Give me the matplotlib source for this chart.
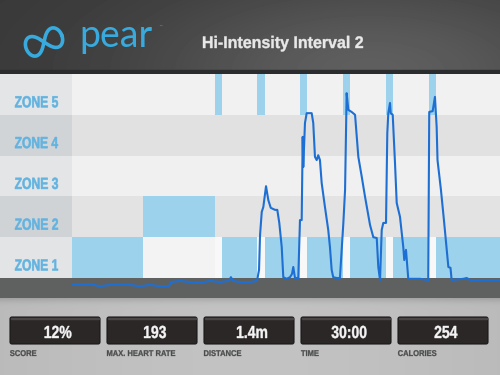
import numpy as np
import matplotlib
matplotlib.use("Agg")
import matplotlib.pyplot as plt
from matplotlib.patches import Rectangle, FancyBboxPatch, PathPatch
from matplotlib.textpath import TextPath
from matplotlib.font_manager import FontProperties
from matplotlib.transforms import Affine2D

#%% data
zone_names = ["ZONE 1", "ZONE 2", "ZONE 3", "ZONE 4", "ZONE 5"]

# workout plan (minutes)
plan_zone = [1, 2, 5, 1, 5, 1, 5, 1, 5, 1, 5, 1, 5, 1]
plan_start = [0, 5, 10, 10.5, 13, 13.5, 16, 16.5, 19, 19.5, 22, 22.5, 25, 25.5]
plan_end = [5, 10, 10.5, 13, 13.5, 16, 16.5, 19, 19.5, 22, 22.5, 25, 25.5, 30]

# heart rate trace: time (min) and level in zone units (0 = bottom of zone 1)
hr_time = [0.00, 0.56, 1.26, 1.96, 2.66, 3.36, 4.07, 4.77, 5.47, 6.17, 6.80,
           6.94, 7.57, 8.27, 8.97, 9.67, 10.37, 11.00, 11.14, 11.28, 11.78,
           12.48, 12.97, 13.11, 13.18, 13.30, 13.41, 13.60, 13.76, 13.93,
           14.23, 14.39, 14.53, 14.70, 14.81, 15.05, 15.28, 15.42, 15.51,
           15.63, 15.86, 15.98, 16.10, 16.17, 16.21, 16.33, 16.45, 16.80,
           16.91, 17.03, 17.15, 17.26, 17.38, 17.50, 17.73, 17.96, 18.08,
           18.20, 18.31, 18.55, 18.78, 19.02, 19.14, 19.25, 19.37, 19.60,
           19.84, 20.07, 20.31, 20.54, 20.89, 21.12, 21.36, 21.47, 21.59,
           21.71, 21.82, 22.01, 22.10, 22.17, 22.29, 22.34, 22.48, 22.64,
           22.76, 22.99, 23.22, 23.29, 23.41, 23.57, 24.39, 24.97, 25.04,
           25.28, 25.44, 25.56, 25.62, 25.86, 26.07, 26.38, 26.53, 26.61,
           27.43, 27.67, 27.90, 30.00]
hr_level = [-0.15, -0.17, -0.15, -0.20, -0.17, -0.15, -0.17, -0.20, -0.17,
            -0.20, -0.20, -0.10, -0.07, -0.10, -0.12, -0.07, -0.10, -0.07,
            0.02, -0.07, -0.10, -0.10, -0.07, 0.20, 1.05, 1.62, 1.74, 2.25,
            1.91, 1.72, 1.67, 1.67, 1.35, 0.76, 0.02, -0.02, 0.02, 0.10, 0.27,
            0.00, 0.00, 1.42, 1.42, 3.46, 2.72, 3.80, 4.04, 4.04, 3.80, 2.97,
            2.89, 3.01, 2.89, 2.33, 1.74, 1.18, 0.76, 0.20, 0.02, 0.00, 0.00,
            1.35, 2.16, 4.53, 4.12, 4.07, 4.00, 2.97, 2.48, 1.99, 1.30, 1.00,
            0.98, 0.27, -0.05, 1.18, 1.35, 1.35, 3.55, 4.04, 4.29, 4.04, 4.00,
            2.82, 1.84, 1.50, 0.76, 0.44, 0.69, -0.02, -0.02, -0.05, 4.07,
            4.09, 4.44, 3.70, 2.89, 2.16, 1.42, 0.27, 0.25, -0.05, -0.02, 0.00,
            -0.05, -0.05]

stat_labels = ["SCORE", "MAX. HEART RATE", "DISTANCE", "TIME", "CALORIES"]
stat_values = ["12%", "193", "1.4m", "30:00", "254"]

title = "Hi-Intensity Interval 2"

#%% styles
blue_block = "#9dd2ec"
zone_bg = ["#f3f3f3", "#e3e3e3", "#f0f0f0", "#e1e1e1", "#f1f1f1"]
label_bg = ["#e2e4e6", "#d0d3d6", "#e3e5e7", "#d1d4d7", "#e3e5e7"]
ymin = -0.49
bold = FontProperties(family="Liberation Sans", weight="bold")


def narrow_text(ax, x, y, s, cap_px, color, ha="left", sx=0.8, width=None,
                stroke=0.3, zorder=5):
    # condensed bold text drawn as a path, (x, y) = baseline point in pixels
    size = cap_px / 0.716
    tp = TextPath((0, 0), s, size=size, prop=bold)
    b = tp.get_extents()
    if width is not None:
        sx = width / b.width
    if ha == "center":
        dx = -(b.x0 + b.x1) / 2 * sx
    else:
        dx = -b.x0 * sx
    tr = Affine2D().scale(sx, -1).translate(x + dx, y)
    ax.add_patch(PathPatch(tr.transform_path(tp), fc=color, ec=color,
                           lw=stroke, zorder=zorder))


fig = plt.figure(figsize=(5, 3.75), dpi=100)

# background in pixel units
bg = fig.add_axes([0, 0, 1, 1])
bg.set_xlim(0, 500)
bg.set_ylim(375, 0)
bg.axis("off")

xx, yy = np.meshgrid(np.arange(500), np.arange(75))
head = 0.22 + 0.15 * np.exp(-((xx - 370) / 230.0) ** 2 - ((yy - 70) / 90.0) ** 2)
bg.imshow(head, cmap="gray", vmin=0, vmax=1, extent=(0, 500, 75, 0),
          aspect="auto", zorder=0)
xx, yy = np.meshgrid(np.arange(500), np.arange(80))
low = 0.70 + 0.06 * np.exp(-((xx - 250) / 300.0) ** 2) \
    - 0.12 * np.exp(-(yy / 6.0) ** 2)
bg.imshow(low, cmap="gray", vmin=0, vmax=1, extent=(0, 500, 375, 295),
          aspect="auto", zorder=0)
bg.add_patch(Rectangle((0, 70), 500, 4, color="#2a2c2d", zorder=1))

# logo
t = np.linspace(0, 2 * np.pi, 300)
lx = 19 * np.cos(t) / (1 + np.sin(t) ** 2)
ly = 1.5 * 19 * np.sin(t) * np.cos(t) / (1 + np.sin(t) ** 2)
ang = np.deg2rad(-22)
bg.plot(44 + lx * np.cos(ang) - ly * np.sin(ang),
        42 + lx * np.sin(ang) + ly * np.cos(ang),
        color="#38aade", lw=2.6, solid_capstyle="round")
bg.text(79, 47, "pear", color="#38aade", fontsize=27, family="Lato",
        va="baseline", ha="left")
bg.text(158, 27, "\u2122", color="#38aade", fontsize=3, va="center")
narrow_text(bg, 283, 48, title, 12, "#e8e8e8", ha="center", width=160)

# stat boxes
for i, (lab, val) in enumerate(zip(stat_labels, stat_values)):
    x0 = 10 + 97 * i
    bg.add_patch(FancyBboxPatch((x0, 317), 90, 27,
                                boxstyle="round,pad=0,rounding_size=2",
                                fc="#2b2727", ec="#1a1818", lw=0.8, zorder=2))
    bg.add_patch(Rectangle((x0 + 1, 317.5), 88, 1.2, color="#4a4646", zorder=3))
    narrow_text(bg, x0 + 48, 338, val, 12.5, "#f4f4f4", ha="center", sx=0.8)
    narrow_text(bg, x0, 356, lab, 6, "#4b4c4c", ha="left", sx=0.9,
                stroke=0.2)

#%% zone labels column
pos_y = (375 - 298) / 375
pos_h = (298 - 74) / 375
axl = fig.add_axes([0, pos_y, 72 / 500, pos_h])
axl.set_xlim(0, 1)
axl.set_ylim(ymin, 5)
axl.axis("off")
for i in range(5):
    axl.axhspan(i, i + 1, color=label_bg[i], lw=0)
axl.axhspan(ymin, 0, color="#5f6161", lw=0)

#%% chart
ax = fig.add_axes([72 / 500, pos_y, 428 / 500, pos_h])
ax.set_xlim(0, 30)
ax.set_ylim(ymin, 5)
ax.axis("off")
for i in range(5):
    ax.axhspan(i, i + 1, color=zone_bg[i], lw=0)
ax.axhspan(ymin, 0, color="#5f6161", lw=0)

widths = [e - s for s, e in zip(plan_start, plan_end)]
bottoms = [z - 1 for z in plan_zone]
ax.bar(plan_start, 1, width=widths, bottom=bottoms, align="edge",
       color=blue_block, lw=0, zorder=1)
# zone 1 looks whiter while zone 5 is planned
for s, w, z in zip(plan_start, widths, plan_zone):
    if z == 5:
        ax.bar(s, 1, width=w, bottom=0, align="edge", color="#f8f8f8",
               lw=0, zorder=1)

ax.plot(hr_time, hr_level, color="#1e6fd3", lw=1.5, zorder=3,
        solid_joinstyle="round")

# zone label text on top of the label column
bg.set_zorder(0)
axl.set_zorder(1)
ax.set_zorder(1)
top = fig.add_axes([0, 0, 1, 1])
top.set_xlim(0, 500)
top.set_ylim(375, 0)
top.axis("off")
top.set_zorder(2)
# bands are 40.8 px per zone, zone 1 bottom at y = 278 px
for i, name in enumerate(zone_names):
    narrow_text(top, 15, 278 - 40.8 * i - 7.5, name, 11.5, "#62b3e0",
                ha="left", width=43, stroke=0.4)

plt.savefig("out.png", dpi=100)
plt.close(fig)
